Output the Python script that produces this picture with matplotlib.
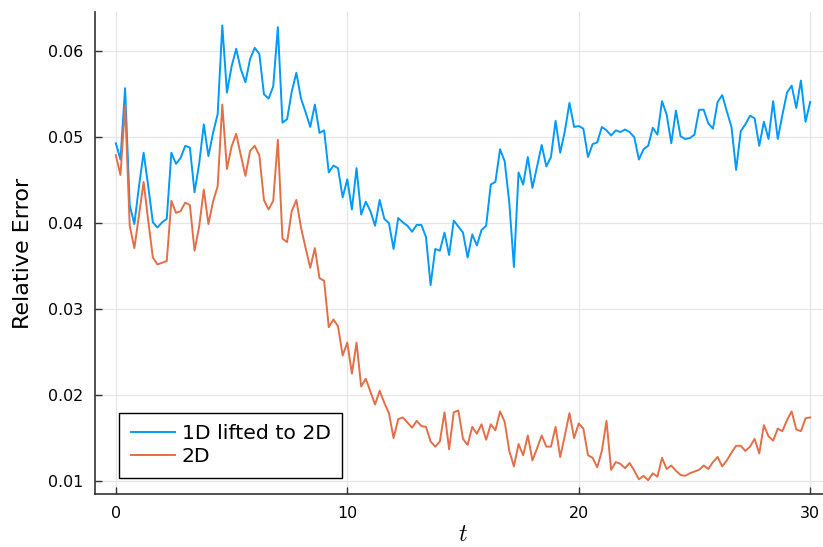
import numpy as np
import matplotlib
matplotlib.use("Agg")
import matplotlib.pyplot as plt

plt.rcParams['mathtext.fontset'] = 'cm'

# time grid: 0 to 30 in steps of 0.2
t = np.linspace(0, 30, 151)

err_lifted = [
    0.0493, 0.0474, 0.0557, 0.0421, 0.0399, 0.0443, 0.0482, 0.0443, 0.0401, 0.0395,
    0.0401, 0.0405, 0.0482, 0.0469, 0.0476, 0.0490, 0.0488, 0.0436, 0.0469, 0.0515,
    0.0478, 0.0505, 0.0527, 0.0630, 0.0552, 0.0582, 0.0603, 0.0579, 0.0564, 0.0591,
    0.0604, 0.0597, 0.0550, 0.0545, 0.0559, 0.0628,
    0.0517, 0.0521, 0.0553, 0.0575, 0.0545, 0.0529, 0.0512, 0.0538, 0.0505, 0.0508,
    0.0459, 0.0467, 0.0464, 0.0430, 0.0451, 0.0416, 0.0464, 0.0410, 0.0425, 0.0414,
    0.0397, 0.0427, 0.0405, 0.0400, 0.0370, 0.0406, 0.0401, 0.0397, 0.0390, 0.0398,
    0.0398, 0.0384, 0.0328, 0.0370, 0.0368, 0.0389, 0.0363,
    0.0403, 0.0396, 0.0389, 0.0360, 0.0387, 0.0374, 0.0392, 0.0397, 0.0445, 0.0448,
    0.0486, 0.0472, 0.0424, 0.0349, 0.0459, 0.0445, 0.0477, 0.0441, 0.0466, 0.0491,
    0.0466, 0.0477, 0.0519, 0.0482, 0.0507, 0.0540, 0.0512, 0.0513, 0.0510, 0.0477,
    0.0492, 0.0494, 0.0512, 0.0508, 0.0502, 0.0508, 0.0506, 0.0509, 0.0506, 0.0500,
    0.0474,
    0.0486, 0.0490, 0.0511, 0.0503, 0.0542, 0.0526, 0.0493, 0.0531, 0.0501, 0.0498,
    0.0499, 0.0503, 0.0532, 0.0532, 0.0516, 0.0510, 0.0541, 0.0549, 0.0530, 0.0512,
    0.0462, 0.0507, 0.0515, 0.0525, 0.0522, 0.0490, 0.0518, 0.0498, 0.0542, 0.0498,
    0.0526, 0.0552, 0.0560, 0.0534, 0.0566, 0.0518, 0.0541,
]

err_2d = [
    0.0479, 0.0456, 0.0537, 0.0397, 0.0371, 0.0409, 0.0448, 0.0403, 0.0360, 0.0352,
    0.0354, 0.0356, 0.0426, 0.0412, 0.0414, 0.0424, 0.0421, 0.0368, 0.0396, 0.0439,
    0.0399, 0.0425, 0.0443, 0.0538, 0.0463, 0.0489, 0.0504, 0.0479, 0.0455, 0.0484,
    0.0490, 0.0479, 0.0427, 0.0416, 0.0426, 0.0497,
    0.0382, 0.0378, 0.0414, 0.0427, 0.0395, 0.0371, 0.0348, 0.0371, 0.0336, 0.0333,
    0.0279, 0.0288, 0.0280, 0.0246, 0.0261, 0.0225, 0.0261, 0.0210, 0.0219, 0.0204,
    0.0189, 0.0205, 0.0191, 0.0179, 0.0150, 0.0172, 0.0174, 0.0168, 0.0162, 0.0170,
    0.0164, 0.0163, 0.0146, 0.0140, 0.0146, 0.0180, 0.0137, 0.0180, 0.0182, 0.0149,
    0.0142,
    0.0163, 0.0155, 0.0166, 0.0148, 0.0166, 0.0159, 0.0181, 0.0169, 0.0135, 0.0117,
    0.0143, 0.0130, 0.0153, 0.0124, 0.0138, 0.0153, 0.0140, 0.0140, 0.0163, 0.0128,
    0.0153, 0.0179, 0.0150, 0.0167, 0.0161, 0.0130, 0.0127, 0.0116, 0.0135, 0.0170,
    0.0113, 0.0122, 0.0120, 0.0115, 0.0121, 0.0112, 0.0102, 0.0106, 0.0101, 0.0109,
    0.0105, 0.0127, 0.0114, 0.0118, 0.0112, 0.0107, 0.0106, 0.0109, 0.0111, 0.0113,
    0.0118, 0.0114, 0.0122, 0.0128, 0.0117, 0.0124, 0.0133, 0.0141, 0.0141, 0.0135,
    0.0140, 0.0149, 0.0132, 0.0165, 0.0152, 0.0147, 0.0161, 0.0158, 0.0171, 0.0181,
    0.0160, 0.0158, 0.0173, 0.0174,
]

labels = ['1D lifted to 2D', '2D']
xticks = [0, 10, 20, 30]
yticks = [0.01, 0.02, 0.03, 0.04, 0.05, 0.06]

W, H = 823, 547
fig = plt.figure(figsize=(W / 100, H / 100), dpi=100)
# axes runs a bit past the right edge, like the original
ax = fig.add_axes([95 / W, (H - 494) / H, (831 - 95) / W, (494 - 12) / H])

ax.plot(t, err_lifted, color='#009AFA', lw=1.4, label=labels[0])
ax.plot(t, err_2d, color='#E36F47', lw=1.4, label=labels[1])

ax.set_xlim(-0.9, 30.9)
ax.set_ylim(0.00849, 0.06457)
ax.set_xticks(xticks)
ax.set_yticks(yticks)
ax.set_yticklabels(['%.2f' % v for v in yticks])

ax.grid(True, color='#e6e6e6', lw=0.9)
ax.set_axisbelow(True)
for s in ['top', 'right']:
    ax.spines[s].set_visible(False)
for s in ['left', 'bottom']:
    ax.spines[s].set_color('#333333')
    ax.spines[s].set_linewidth(1.2)
ax.tick_params(direction='in', length=5, width=1, color='#333333',
               labelsize=11.4, pad=8.5)

ax.set_xlabel('$t$', fontsize=17, labelpad=1)
ax.set_ylabel('Relative Error', fontsize=16, labelpad=11)

leg = ax.legend(loc='lower left', bbox_to_anchor=(0.033, 0.034), borderaxespad=0,
                fontsize=14.7, fancybox=False, framealpha=1, edgecolor='black',
                handlelength=2.2, handletextpad=0.3, labelspacing=0.22,
                borderpad=0.55)
leg.get_frame().set_linewidth(1.0)

fig.savefig('out.png', dpi=100)
